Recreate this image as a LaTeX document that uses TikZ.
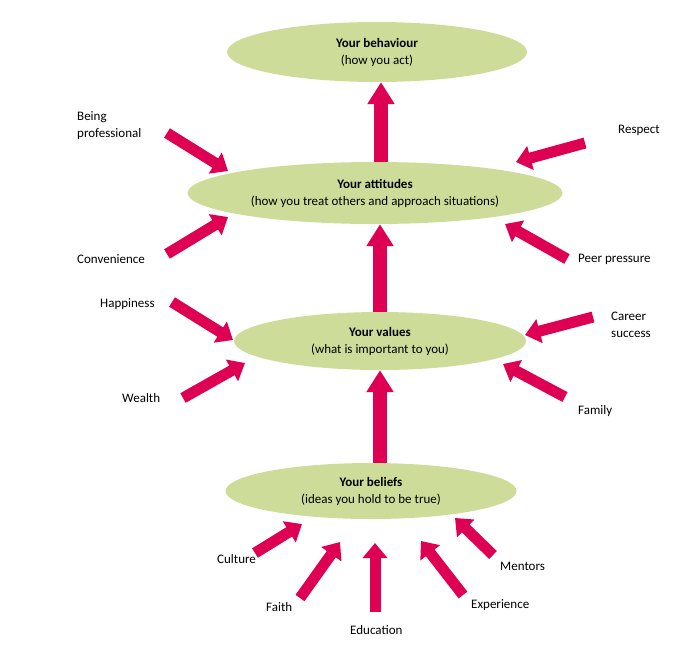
\documentclass[tikz,border=0pt]{standalone}
\usepackage{fontspec}
\setmainfont{Carlito}
\usetikzlibrary{shapes.geometric,arrows.meta}
\definecolor{ovalgreen}{RGB}{205,221,153}
\definecolor{arrowred}{RGB}{222,0,82}
\tikzset{
  stage/.style={ellipse, fill=ovalgreen, inner sep=0pt, align=center, font=\fontsize{13}{17}\selectfont},
  lbl/.style={anchor=west, align=left, inner sep=0pt, font=\fontsize{13}{17}\selectfont},
  bigarr/.style={draw=arrowred, line width=14pt, -{Triangle[width=26pt,length=22pt]}},
  inarr/.style={draw=arrowred, line width=11pt, -{Triangle[width=24pt,length=15pt]}},
}

\begin{document}
\begin{tikzpicture}[x=1pt, y=-1pt]
\useasboundingbox (0,0) rectangle (690,651);
% the four stages
\node[stage, minimum width=300pt, minimum height=60pt] (beh) at (377,52) {\textbf{Your behaviour}\\(how you act)};
\node[stage, minimum width=375pt, minimum height=62pt] (att) at (375,193) {\textbf{Your attitudes}\\(how you treat others and approach situations)};
\node[stage, minimum width=292pt, minimum height=58pt] (val) at (380,341) {\textbf{Your values}\\(what is important to you)};
\node[stage, minimum width=291pt, minimum height=56pt] (bel) at (371,491) {\textbf{Your beliefs}\\(ideas you hold to be true)};
\draw[bigarr] ([xshift=4pt]beh.south |- att.north) -- ([xshift=4pt]beh.south);
\draw[bigarr] (val.north) -- (val.north |- att.south);
\draw[bigarr] (val.south |- bel.north) -- (val.south);
% influences on attitudes
\node[lbl] (pro) at (77,126) {Being\\professional};
\node[lbl] (con) at (77,259) {Convenience};
\node[lbl] (res) at (618,130) {Respect};
\node[lbl] (peer) at (578,259) {Peer pressure};
\coordinate (proA) at (167,133); \coordinate (proB) at (228,171);
\coordinate (conA) at (167,254); \coordinate (conB) at (228,217);
\coordinate (resA) at (585,143); \coordinate (resB) at (516,162);
\coordinate (peerA) at (567,259); \coordinate (peerB) at (505,224);
\draw[inarr] (proA) -- (proB);
\draw[inarr] (conA) -- (conB);
\draw[inarr] (resA) -- (resB);
\draw[inarr] (peerA) -- (peerB);
% influences on values
\node[lbl] (hap) at (100,304) {Happiness};
\node[lbl] (wea) at (122,398) {Wealth};
\node[lbl] (car) at (611,325) {Career\\success};
\node[lbl] (fam) at (578,411) {Family};
\coordinate (hapA) at (172,302); \coordinate (hapB) at (233,340);
\coordinate (weaA) at (183,398); \coordinate (weaB) at (245,363);
\coordinate (carA) at (593,317); \coordinate (carB) at (525,335);
\coordinate (famA) at (565,397); \coordinate (famB) at (503,364);
\draw[inarr] (hapA) -- (hapB);
\draw[inarr] (weaA) -- (weaB);
\draw[inarr] (carA) -- (carB);
\draw[inarr] (famA) -- (famB);
% influences on beliefs
\node[lbl] (cul) at (217,559) {Culture};
\node[lbl] (fai) at (266,607) {Faith};
\node[lbl] (edu) at (350,630) {Education};
\node[lbl] (exp) at (471,605) {Experience};
\node[lbl] (men) at (500,566) {Mentors};
\coordinate (culA) at (255,553); \coordinate (culB) at (302,524);
\coordinate (faiA) at (300,598); \coordinate (faiB) at (340,542);
\coordinate (eduA) at (375,612); \coordinate (eduB) at (375,543);
\coordinate (expA) at (463,595); \coordinate (expB) at (421,541);
\coordinate (menA) at (493,555); \coordinate (menB) at (455,518);
\draw[inarr] (culA) -- (culB);
\draw[inarr] (faiA) -- (faiB);
\draw[inarr] (eduA) -- (eduB);
\draw[inarr] (expA) -- (expB);
\draw[inarr] (menA) -- (menB);
\end{tikzpicture}
\end{document}
